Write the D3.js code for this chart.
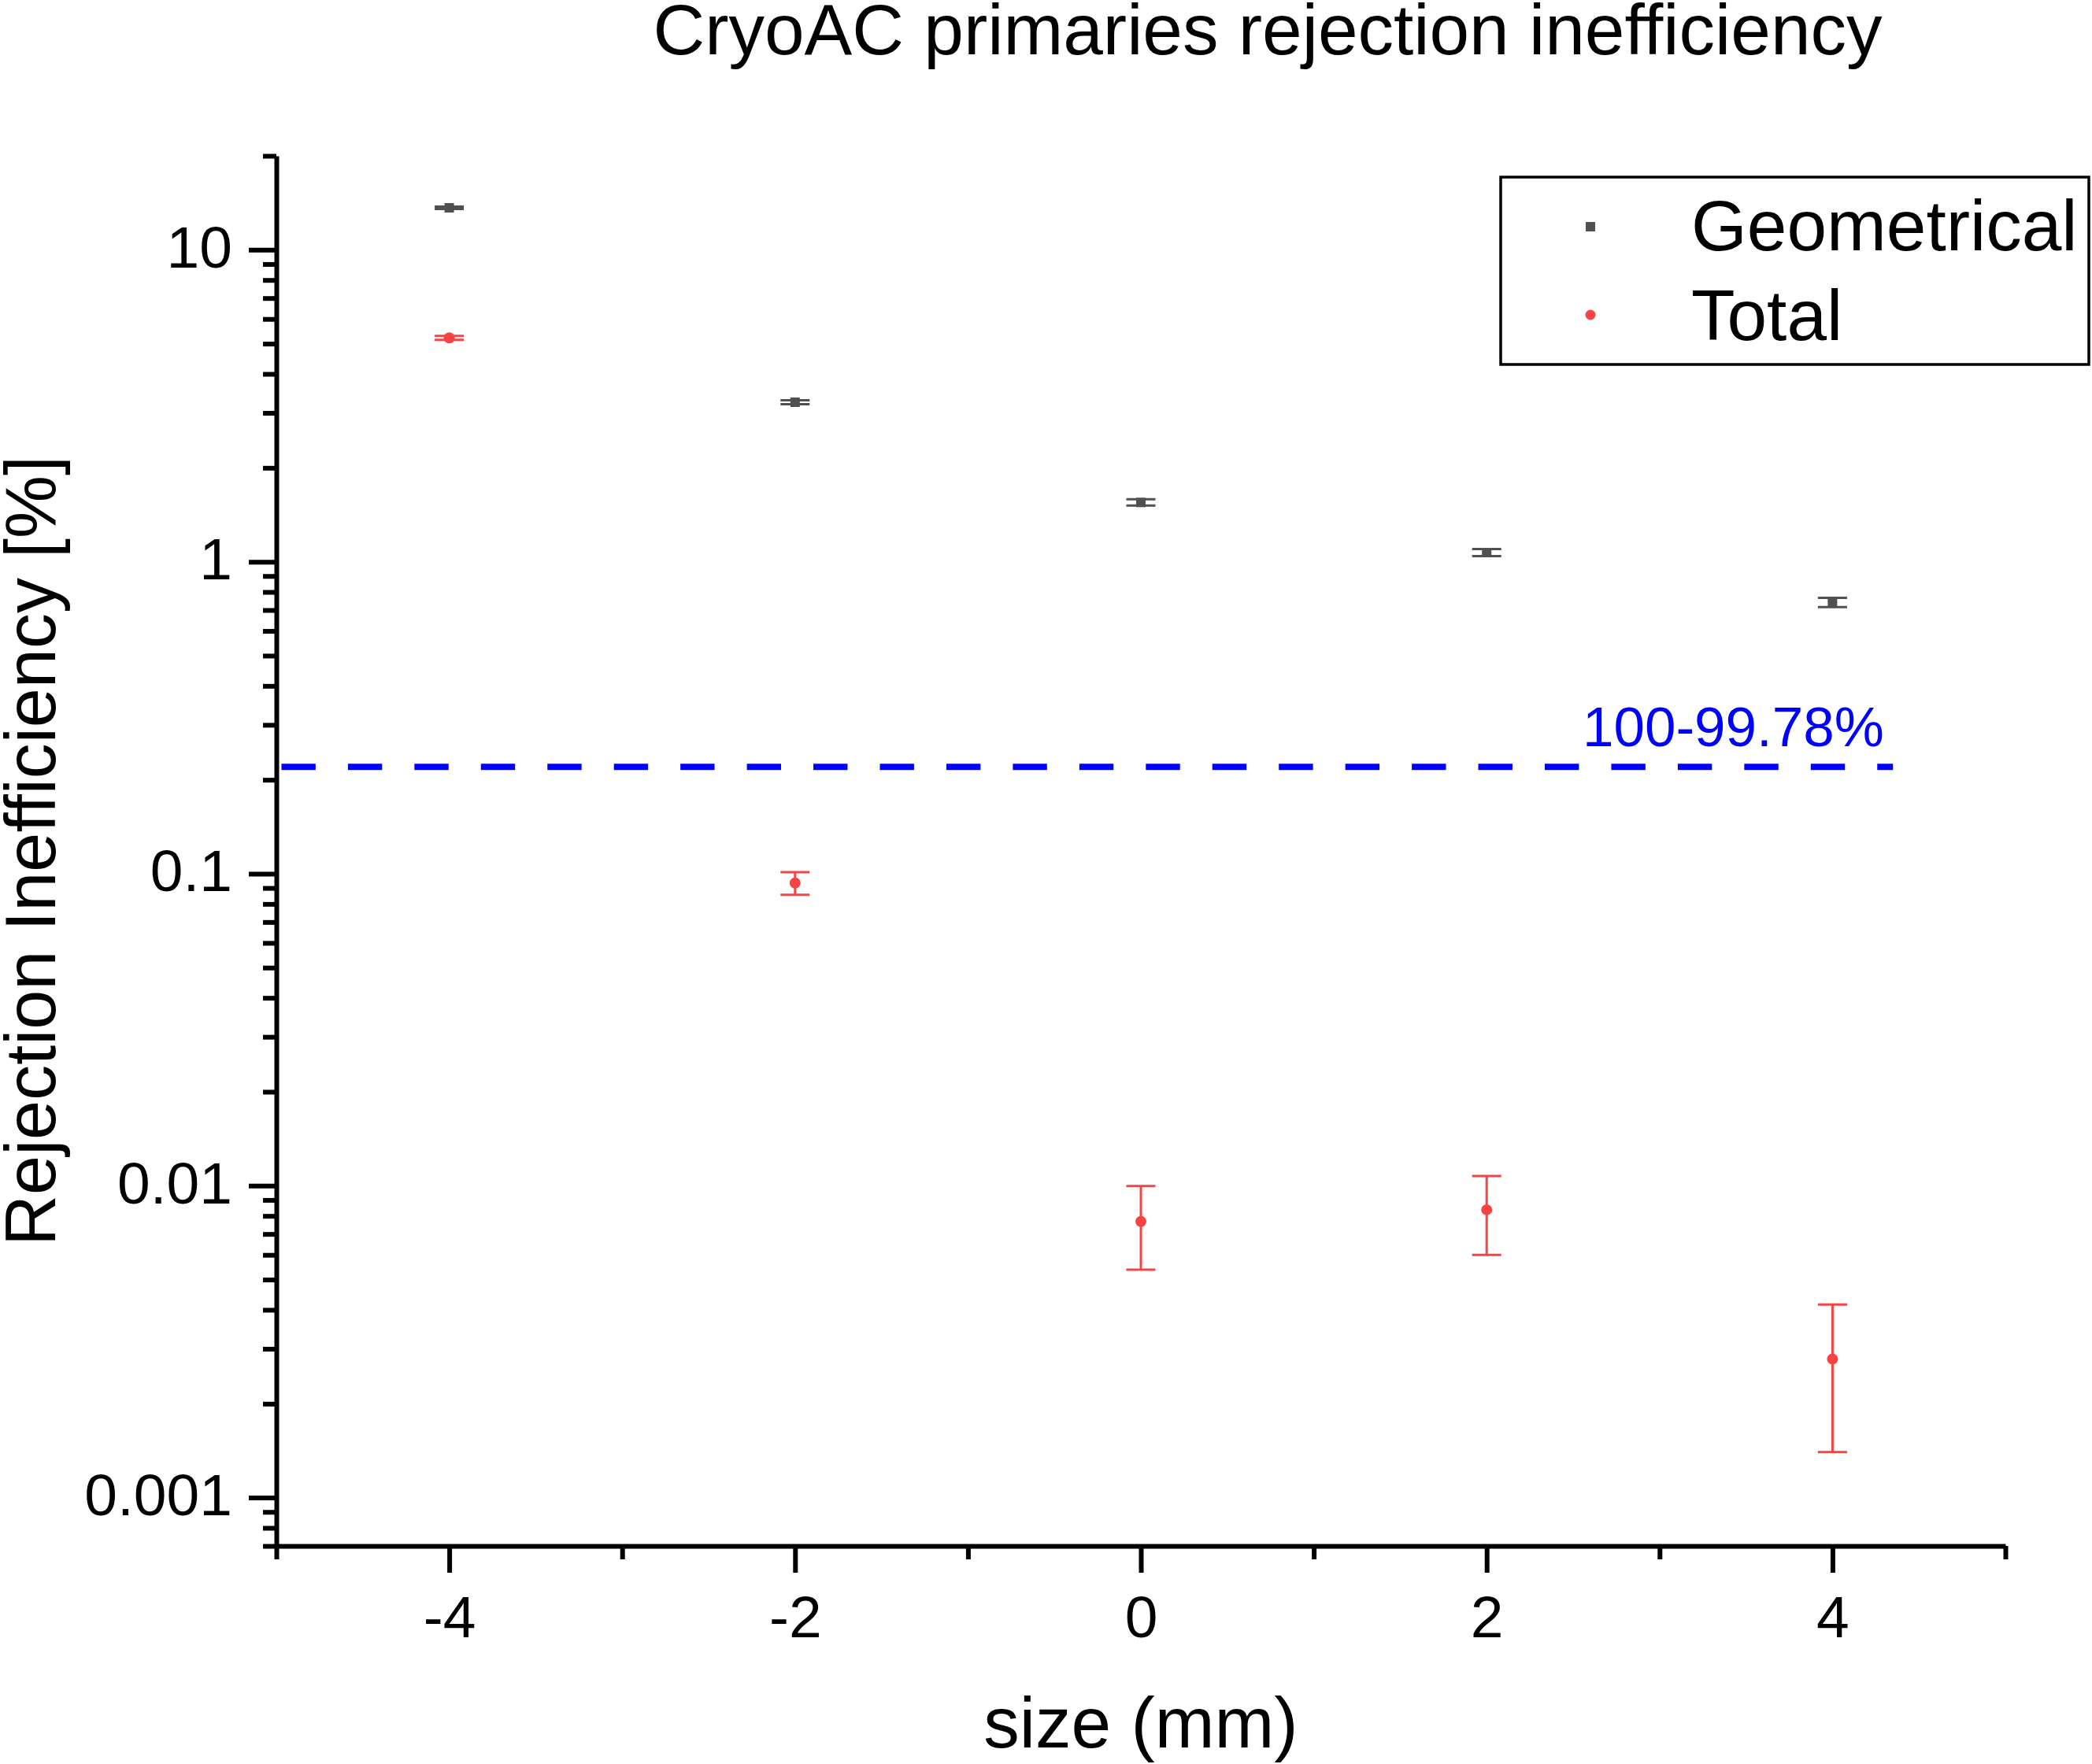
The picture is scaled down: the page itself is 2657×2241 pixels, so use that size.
<!DOCTYPE html>
<html>
<head>
<meta charset="utf-8">
<script src="https://cdn.jsdelivr.net/npm/d3@7"></script>
<style>
  html, body { margin: 0; padding: 0; background: #ffffff; }
  svg { display: block; }
  text { font-family: "Liberation Sans", Arial, sans-serif; }
</style>
</head>
<body>
<script>
// ---- data ----
const sizes = [-4, -2, 0, 2, 4];
const geometrical = [13.63, 3.245, 1.549, 1.070, 0.741];
const geometricalErr = [0.12, 0.047, 0.036, 0.028, 0.025];
const total = [5.218, 0.0934, 0.00768, 0.00837, 0.00278];
const totalErr = [0.076, 0.0078, 0.0023, 0.00237, 0.00138];
const thresholdValue = 0.22;
const thresholdLabel = "100-99.78%";
const thresholdX = [-5, 4.35];
const xMajorTicks = [-4, -2, 0, 2, 4];
const xMinorTicks = [-5, -3, -1, 1, 3, 5];
const yMajorTicks = [10, 1, 0.1, 0.01, 0.001];
const yTickLabels = ["10", "1", "0.1", "0.01", "0.001"];
const seriesNames = ["Geometrical", "Total"];
const titleText = "CryoAC primaries rejection inefficiency";
const xTitle = "size (mm)";
const yTitle = "Rejection Inefficiency [%]";

(function () {
// ---- layout ----
const W = 2657, H = 2241;
const pL = 351, pR = 2547, pT = 198, pB = 1964;
const GRAY = "#505050", RED = "#f64444", BLUE = "#0000ff";

const svg = d3.select("body").append("svg")
  .attr("width", W).attr("height", H)
  .attr("viewBox", `0 0 ${W} ${H}`);
svg.append("rect").attr("width", W).attr("height", H).attr("fill", "#fff");

const x = d3.scaleLinear().domain([-5, 5]).range([pL, pR]);
const y = d3.scaleLog().domain([0.0007, 20]).range([pB, pT]);

// minor y ticks
const yMinor = [];
for (let e = -4; e <= 1; e++) {
  for (let m = 2; m <= 9; m++) {
    const v = m * Math.pow(10, e);
    if (v >= 0.0007 - 1e-12 && v <= 20 + 1e-9) yMinor.push(v);
  }
}

function styleAxis(g) {
  g.select(".domain").attr("stroke", "#000").attr("stroke-width", 6);
  g.selectAll(".tick line").attr("stroke", "#000").attr("stroke-width", 6);
  g.selectAll(".tick text").attr("fill", "#000").attr("font-size", 75)
    .attr("font-family", '"Liberation Sans", Arial, sans-serif');
}

// X axis
const gxMinor = svg.append("g").attr("transform", `translate(0,${pB})`)
  .call(d3.axisBottom(x).tickValues(xMinorTicks).tickSize(17).tickSizeOuter(0).tickFormat(""));
styleAxis(gxMinor);
gxMinor.select(".domain").remove();
const gx = svg.append("g").attr("transform", `translate(0,${pB})`)
  .call(d3.axisBottom(x).tickValues(xMajorTicks).tickSize(34).tickSizeOuter(0).tickFormat(d3.format("d")));
styleAxis(gx);
gx.selectAll(".tick text").attr("y", 116).attr("dy", 0).text(d => String(d));

// Y axis
const gyMinor = svg.append("g").attr("transform", `translate(${pL},0)`)
  .call(d3.axisLeft(y).tickValues(yMinor).tickSize(17).tickSizeOuter(0).tickFormat(""));
styleAxis(gyMinor);
gyMinor.select(".domain").remove();
const gy = svg.append("g").attr("transform", `translate(${pL},0)`)
  .call(d3.axisLeft(y).tickValues(yMajorTicks).tickSize(35).tickSizeOuter(0)
    .tickFormat((d, i) => yTickLabels[i]));
styleAxis(gy);
gy.selectAll(".tick text").attr("x", -56).attr("dy", 0).attr("y", 22);

// Threshold dashed line
svg.append("line")
  .attr("x1", x(thresholdX[0])).attr("x2", x(thresholdX[1]))
  .attr("y1", y(thresholdValue)).attr("y2", y(thresholdValue))
  .attr("stroke", BLUE).attr("stroke-width", 8)
  .attr("stroke-dasharray", "43.4 41.05").attr("stroke-dashoffset", 78);
svg.append("text").attr("x", 2010).attr("y", 948)
  .attr("font-size", 71).attr("fill", BLUE).text(thresholdLabel);

// Error bars + markers
function drawSeries(vals, errs, color, marker) {
  const g = svg.append("g");
  const cap = 18.5;
  sizes.forEach((s, i) => {
    const cx = x(s);
    const yHi = y(vals[i] + errs[i]);
    const yLo = y(vals[i] - errs[i]);
    g.append("line").attr("x1", cx).attr("x2", cx).attr("y1", yHi).attr("y2", yLo)
      .attr("stroke", color).attr("stroke-width", 3);
    [yHi, yLo].forEach(yy => {
      g.append("line").attr("x1", cx - cap).attr("x2", cx + cap).attr("y1", yy).attr("y2", yy)
        .attr("stroke", color).attr("stroke-width", 3);
    });
    const cy = y(vals[i]);
    if (marker === "square") {
      g.append("rect").attr("x", cx - 6).attr("y", cy - 6).attr("width", 12).attr("height", 12)
        .attr("fill", color);
    } else {
      g.append("circle").attr("cx", cx).attr("cy", cy).attr("r", 7).attr("fill", color);
    }
  });
}
drawSeries(geometrical, geometricalErr, GRAY, "square");
drawSeries(total, totalErr, RED, "circle");

// Legend
const lg = svg.append("g");
lg.append("rect").attr("x", 1906).attr("y", 225).attr("width", 2653 - 1906).attr("height", 238)
  .attr("fill", "#fff").attr("stroke", "#000").attr("stroke-width", 3.5);
lg.append("rect").attr("x", 2014).attr("y", 282).attr("width", 12).attr("height", 12).attr("fill", GRAY);
lg.append("circle").attr("cx", 2020).attr("cy", 400).attr("r", 6.5).attr("fill", RED);
lg.append("text").attr("x", 2148).attr("y", 318).attr("font-size", 91).text(seriesNames[0]);
lg.append("text").attr("x", 2148).attr("y", 432).attr("font-size", 91).text(seriesNames[1]);

// Titles
svg.append("text").attr("x", 1610).attr("y", 69).attr("text-anchor", "middle")
  .attr("font-size", 91).text(titleText);
svg.append("text").attr("x", (pL + pR) / 2).attr("y", 2220).attr("text-anchor", "middle")
  .attr("font-size", 91).text(xTitle);
svg.append("text").attr("transform", `translate(70,${(pT + pB) / 2}) rotate(-90)`)
  .attr("text-anchor", "middle").attr("font-size", 90).text(yTitle);
})();
</script>
</body>
</html>
